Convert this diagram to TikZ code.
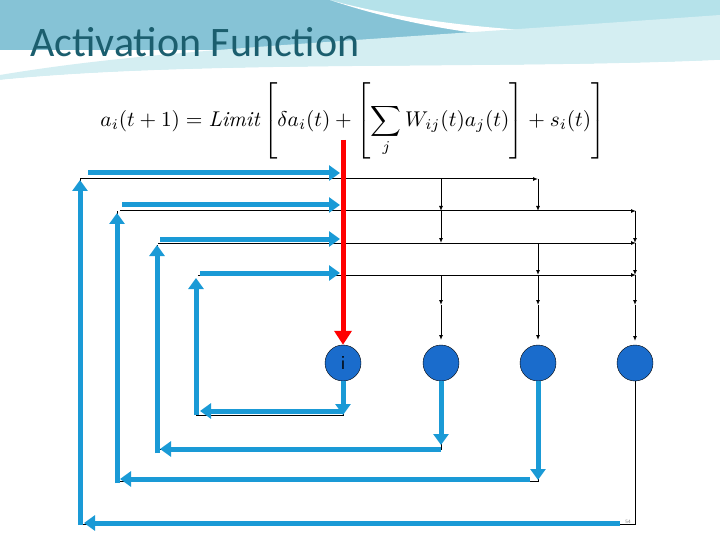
\documentclass[tikz,border=0pt]{standalone}
\usepackage{fontspec}
\usepackage{graphicx}
\newfontfamily\titlefont{Carlito}
\usetikzlibrary{arrows.meta}
\definecolor{bl}{HTML}{1A9AD6}
\definecolor{nf}{HTML}{1A6CCC}
\definecolor{tt}{HTML}{1B5E6E}
\definecolor{h1}{HTML}{86C3D6}
\definecolor{h2}{HTML}{B5E2EA}
\definecolor{h3}{HTML}{D4EEF2}
\tikzset{
 thick blue/.style={draw=bl,line width=5pt,-{Triangle[length=11pt,width=15pt]}},
 thin/.style={draw=black,line width=1pt,-{Latex[length=5pt,width=4pt]}},
 neuron/.style={circle,draw=black,fill=nf,minimum size=36pt,inner sep=0pt,font=\sffamily\fontsize{20}{22}\selectfont},
}
\begin{document}
\begin{tikzpicture}[x=1pt,y=-1pt]
\useasboundingbox (0,0) rectangle (720,540);
\fill[white] (0,0) rectangle (720,540);
% header decoration
\fill[h1] (0,0) rectangle (720,50);
\fill[h2] (330,0) .. controls (420,25) and (520,45) .. (720,40) -- (720,0) -- cycle;
\fill[white] (330,0) .. controls (420,25) and (560,40) .. (720,30) -- (720,40) .. controls (540,50) and (420,30) .. (330,0);
\fill[h3] (0,75) .. controls (150,50) and (300,45) .. (720,15) -- (720,60) .. controls (500,70) and (200,60) .. (0,80) -- cycle;
\fill[white] (0,80) .. controls (200,60) and (500,70) .. (720,60) -- (720,540) -- (0,540) -- cycle;
\node[font=\titlefont\fontsize{42}{44}\selectfont,text=tt,anchor=west,inner sep=0pt] (title) at (30,42) {Activation Function};
\node[inner sep=0pt] (eq) at (353,121) {\resizebox{505pt}{!}{$\displaystyle a_i(t+1)=\mathit{Limit}\left[\delta a_i(t)+\left[\sum_j W_{ij}(t)a_j(t)\right]+s_i(t)\right]$}};
% neurons
\node[neuron] (n1) at (343,363) {i};
\node[neuron] (n2) at (441,363) {};
\node[neuron] (n3) at (538,363) {};
\node[neuron] (n4) at (635,363) {};
% thin horizontal lines
\draw[thin] (80,179) -- (538,179);
\draw[thin] (120,211) -- (636,211);
\draw[thin] (158,243) -- (636,243);
\draw[thin] (198,275) -- (636,275);
% thin verticals
\draw[thin] (441,179) -- (441,211);
\draw[thin] (441,211) -- (441,243);
\draw[thin] (441,275) -- (441,305);
\draw[thin] (441,305) -- (441,340);
\draw[thin] (538,179) -- (538,211);
\draw[thin] (538,243) -- (538,275);
\draw[thin] (538,275) -- (538,305);
\draw[thin] (538,305) -- (538,340);
\draw[thin] (635,211) -- (635,243);
\draw[thin] (635,243) -- (635,275);
\draw[thin] (635,275) -- (635,305);
\draw[thin] (635,305) -- (635,341);
% thin feedback lines
\draw[black,line width=0.8pt] (n1.south) |- (196,415) -- (196,280);
\draw[black,line width=0.8pt] (n2.south) |- (157,449) -- (157,245);
\draw[black,line width=0.8pt] (n3.south) |- (117,481) -- (117,211);
\draw[black,line width=0.8pt] (n4.south) |- (80,524) -- (80,179);
% blue feedback
\draw[thick blue] (n1.south) -- (343,415);
\draw[thick blue] (343,411) -- (200,411);
\draw[thick blue] (196,415) -- (196,278);
\draw[thick blue] (200,273) -- (340,273);
\draw[thick blue] (n2.south) -- (441,445);
\draw[thick blue] (441,449) -- (160,449);
\draw[thick blue] (157,453) -- (157,245);
\draw[thick blue] (160,239) -- (340,239);
\draw[thick blue] (n3.south) -- (538,480);
\draw[thick blue] (530,479) -- (120,479);
\draw[thick blue] (117,483) -- (117,213);
\draw[thick blue] (122,205) -- (340,205);
\draw[thick blue] (620,523) -- (84,523);
\draw[thick blue] (80,525) -- (80,180);
\draw[thick blue] (88,173) -- (340,173);
% red input
\draw[red,line width=5pt,-{Triangle[length=14pt,width=17pt]}] (343,140) -- (n1.north);
\node[font=\sffamily\tiny,text=gray] (pg) at (628,522) {54};
\end{tikzpicture}
\end{document}
